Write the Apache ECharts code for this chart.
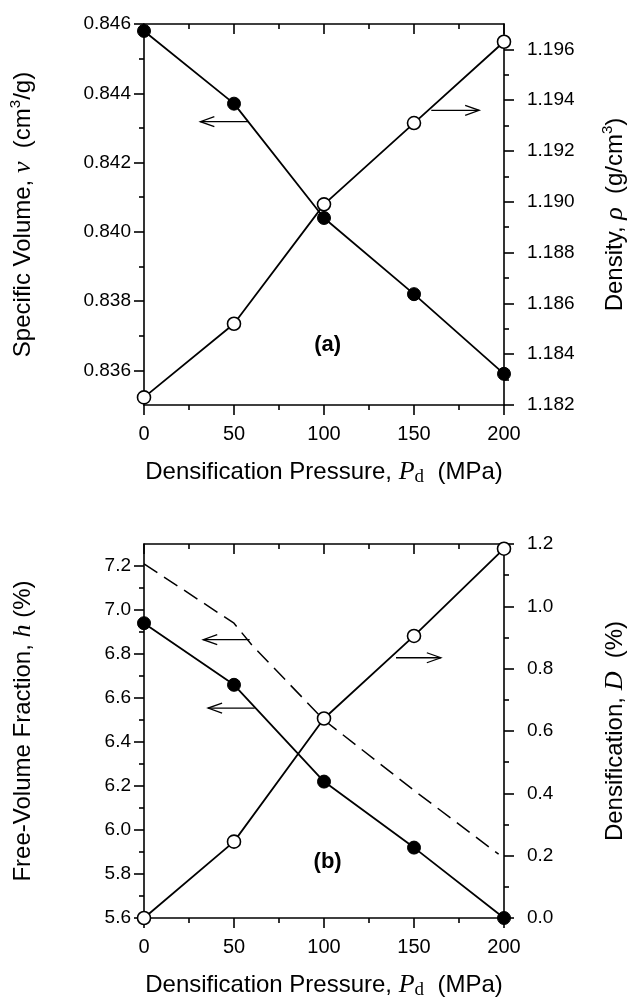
<!DOCTYPE html>
<html>
<head>
<meta charset="utf-8">
<script src="https://cdn.jsdelivr.net/npm/echarts@6/dist/echarts.min.js"></script>
<style>
html,body{margin:0;padding:0;background:#fff;}
#chart{width:636px;height:1001px;}
</style>
</head>
<body>
<div id="chart"></div>
<script>
// ---------- data ----------
const pressure = [0, 50, 100, 150, 200];
const specificVolume = [0.8458, 0.8437, 0.8404, 0.8382, 0.8359];
const density = [1.1823, 1.1852, 1.1899, 1.1931, 1.1963];
const freeVolume = [6.94, 6.66, 6.22, 5.92, 5.60];
const densification = [0.00, 0.245, 0.64, 0.905, 1.185];
const dashedPressure = [0, 50, 60, 100, 150, 197];
const dashedFreeVolume = [7.21, 6.94, 6.84, 6.50, 6.18, 5.89];

// tick labels
const xTicks = [0, 50, 100, 150, 200];
const xMinorTicks = [25, 75, 125, 175];
const svTicks = [0.836, 0.838, 0.840, 0.842, 0.844, 0.846];
const svMinorTicks = [0.837, 0.839, 0.841, 0.843, 0.845];
const rhoTicks = [1.182, 1.184, 1.186, 1.188, 1.190, 1.192, 1.194, 1.196];
const rhoMinorTicks = [1.183, 1.185, 1.187, 1.189, 1.191, 1.193, 1.195];
const hTicks = [5.6, 5.8, 6.0, 6.2, 6.4, 6.6, 6.8, 7.0, 7.2];
const hMinorTicks = [5.7, 5.9, 6.1, 6.3, 6.5, 6.7, 6.9, 7.1];
const dTicks = [0.0, 0.2, 0.4, 0.6, 0.8, 1.0, 1.2];
const dMinorTicks = [0.1, 0.3, 0.5, 0.7, 0.9, 1.1];

// annotation arrows: [tail pressure, head pressure, value]
const arrowTopLeft = [[58.1, 31.3, 0.84318]];
const arrowTopRight = [[159.6, 186.2, 1.1936]];
const arrowBottomLeft = [[58.7, 32.9, 6.865], [61.5, 35.6, 6.554]];
const arrowBottomRight = [[140, 164.9, 0.835]];
const panelLabels = ['(a)', '(b)'];
const panelLabelPosTop = [[102, 0.83674]];
const panelLabelPosBottom = [[102, 5.857]];

// ---------- helpers ----------
const SANS = '"Liberation Sans", Arial, sans-serif';
const SERIF = '"Liberation Serif", "DejaVu Serif", serif';
const AX = {color: '#000', width: 1.6};
const rich = {
  t: {fontFamily: SANS, fontSize: 24, color: '#000', lineHeight: 30},
  i: {fontFamily: SERIF, fontStyle: 'italic', fontSize: 26, color: '#000', lineHeight: 30},
  s: {fontFamily: SANS, fontSize: 15, color: '#000', verticalAlign: 'top', lineHeight: 15},
  sub: {fontFamily: SERIF, fontSize: 19, color: '#000', verticalAlign: 'bottom', lineHeight: 20}
};

function mainAxis(gridIndex, position, min, max, ticks, decimals, name, nameGap, inside) {
  const isX = position === 'top' || position === 'bottom';
  const showLabel = position !== 'top';
  const ax = {
    gridIndex, type: 'value', position, min, max,
    axisLine: {show: true, onZero: false, lineStyle: AX},
    axisTick: {show: true, inside: !!inside, length: 10, customValues: ticks, lineStyle: AX},
    axisLabel: {
      show: showLabel, customValues: ticks,
      margin: isX ? 19 : (position === 'left' ? 13 : 23),
      fontFamily: SANS, fontSize: isX ? 20 : 19, color: '#000',
      formatter: v => Number(v).toFixed(decimals)
    },
    splitLine: {show: false}
  };
  if (name) {
    ax.name = name;
    ax.nameLocation = 'middle';
    ax.nameGap = nameGap;
    if (!isX) ax.nameRotate = 90;
    ax.nameTextStyle = {rich};
  }
  return ax;
}
function minorAxis(gridIndex, position, min, max, ticks, inside) {
  return {
    gridIndex, type: 'value', position, min, max,
    axisLine: {show: false, onZero: false},
    axisTick: {show: true, inside: !!inside, length: 5, customValues: ticks, lineStyle: AX},
    axisLabel: {show: false},
    splitLine: {show: false}
  };
}
function arrowRender(params, api) {
  const tail = api.coord([api.value(0), api.value(2)]);
  const head = api.coord([api.value(1), api.value(2)]);
  const dir = head[0] > tail[0] ? 1 : -1;
  const L = 14, W = 5;
  return {
    type: 'group',
    children: [
      {type: 'line', shape: {x1: tail[0], y1: tail[1], x2: head[0], y2: head[1]},
       style: {stroke: '#000', lineWidth: 1.3}},
      {type: 'polyline', shape: {points: [[head[0] - dir * L, head[1] - W], [head[0], head[1]], [head[0] - dir * L, head[1] + W]]},
       style: {stroke: '#000', lineWidth: 1.3, fill: null}}
    ]
  };
}
function textRender(text) {
  return function (params, api) {
    const p = api.coord([api.value(0), api.value(1)]);
    return {
      type: 'text', x: p[0], y: p[1],
      style: {text, fill: '#000', font: 'bold 22px ' + SANS, align: 'center', verticalAlign: 'middle'}
    };
  };
}
function zip(a, b) { return a.map((v, i) => [v, b[i]]); }

const xName = '{t|Densification Pressure, }{i|P}{sub|d}{t|  (MPa)}';

const xAxis = [];
const yAxis = [];
[0, 1].forEach(g => {
  xAxis.push(mainAxis(g, 'bottom', 0, 200, xTicks, 0, xName, 52, false));
  xAxis.push(minorAxis(g, 'bottom', 0, 200, xMinorTicks, false));
  xAxis.push(mainAxis(g, 'top', 0, 200, xTicks, 0, null, 0, true));
  xAxis.push(minorAxis(g, 'top', 0, 200, xMinorTicks, true));
});
yAxis.push(mainAxis(0, 'left', 0.835, 0.846, svTicks, 3,
  '{t|Specific Volume, }{i|v}{t|  (cm}{s|3}{t|/g)}', 106, false));
yAxis.push(minorAxis(0, 'left', 0.835, 0.846, svMinorTicks, false));
yAxis.push(mainAxis(0, 'right', 1.182, 1.197, rhoTicks, 3,
  '{t|Density, }{i|ρ}{t|  (g/cm}{s|3}{t|)}', 96, false));
yAxis.push(minorAxis(0, 'right', 1.182, 1.197, rhoMinorTicks, false));
yAxis.push(mainAxis(1, 'left', 5.6, 7.3, hTicks, 1,
  '{t|Free-Volume Fraction, }{i|h}{t| (%)}', 106, false));
yAxis.push(minorAxis(1, 'left', 5.6, 7.3, hMinorTicks, false));
yAxis.push(mainAxis(1, 'right', 0, 1.2, dTicks, 1,
  '{t|Densification, }{i|D}{t|  (%)}', 96, false));
yAxis.push(minorAxis(1, 'right', 0, 1.2, dMinorTicks, false));

const filled = {symbol: 'circle', symbolSize: 13, itemStyle: {color: '#000', borderColor: '#000', borderWidth: 1}};
const open = {symbol: 'circle', symbolSize: 13, itemStyle: {color: '#fff', borderColor: '#000', borderWidth: 1.6}};
const lineS = {color: '#000', width: 1.8};

const series = [
  Object.assign({type: 'line', xAxisIndex: 0, yAxisIndex: 0, data: zip(pressure, specificVolume),
    lineStyle: lineS, z: 3}, filled),
  Object.assign({type: 'line', xAxisIndex: 0, yAxisIndex: 2, data: zip(pressure, density),
    lineStyle: lineS, z: 4}, open),
  {type: 'custom', xAxisIndex: 0, yAxisIndex: 0, data: arrowTopLeft, renderItem: arrowRender, clip: false, silent: true},
  {type: 'custom', xAxisIndex: 0, yAxisIndex: 2, data: arrowTopRight, renderItem: arrowRender, clip: false, silent: true},
  {type: 'custom', xAxisIndex: 0, yAxisIndex: 0, data: panelLabelPosTop, renderItem: textRender(panelLabels[0]), silent: true},
  {type: 'line', xAxisIndex: 4, yAxisIndex: 4, data: zip(dashedPressure, dashedFreeVolume),
    symbol: 'none', lineStyle: {color: '#000', width: 1.5, type: [16, 8]}, z: 2},
  Object.assign({type: 'line', xAxisIndex: 4, yAxisIndex: 4, data: zip(pressure, freeVolume),
    lineStyle: lineS, z: 3}, filled),
  Object.assign({type: 'line', xAxisIndex: 4, yAxisIndex: 6, data: zip(pressure, densification),
    lineStyle: lineS, z: 4}, open),
  {type: 'custom', xAxisIndex: 4, yAxisIndex: 4, data: arrowBottomLeft, renderItem: arrowRender, clip: false, silent: true},
  {type: 'custom', xAxisIndex: 4, yAxisIndex: 6, data: arrowBottomRight, renderItem: arrowRender, clip: false, silent: true},
  {type: 'custom', xAxisIndex: 4, yAxisIndex: 4, data: panelLabelPosBottom, renderItem: textRender(panelLabels[1]), silent: true}
];

const chart = echarts.init(document.getElementById('chart'), null, {renderer: 'canvas'});
chart.setOption({
  animation: false,
  backgroundColor: '#fff',
  grid: [
    {left: 143, top: 24, width: 362, height: 381},
    {left: 144, top: 544, width: 361, height: 377}
  ],
  xAxis, yAxis, series
});
</script>
</body>
</html>
